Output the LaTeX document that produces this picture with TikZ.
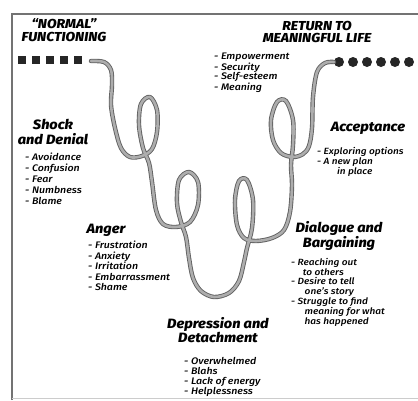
\documentclass[tikz,border=0pt]{standalone}
\usepackage{fontspec}
\setmainfont{Fira Sans}[FakeStretch=1.12]
\newfontfamily\headfont{Fira Sans ExtraBold Italic}[FakeStretch=1.08]
\newfontfamily\itemfont{Fira Sans Medium Italic}[FakeStretch=1.12]
\tikzset{
  endtitle/.style={font=\headfont\fontsize{13}{12.5}\selectfont, align=center, inner sep=0pt},
  stagetitle/.style={font=\headfont\fontsize{13.5}{14.5}\selectfont, align=center, inner sep=0pt},
  itemlist/.style={font=\itemfont\fontsize{9.5}{10.5}\selectfont, align=left, anchor=north west, inner sep=0pt},
  ribbon/.style={draw=black!62, line width=0.9pt, double=black!32, double distance=2.6pt, line join=round, line cap=round}
}
\begin{document}
\begin{tikzpicture}[x=1pt,y=-1pt]
\useasboundingbox (0,0) rectangle (418,400);
\draw[black!55, line width=1.3pt] (12,400) -- (12,14) -- (418,14);
\draw[black!20, line width=0.8pt] (12,398) -- (418,398);
\node[endtitle] (normal) at (64,30) {“NORMAL”\\FUNCTIONING};
\node[endtitle] (return) at (317,32) {RETURN TO\\MEANINGFUL LIFE};
\node[itemlist, font=\itemfont\fontsize{9.5}{9.5}\selectfont] (returnitems) at (214,53) {- Empowerment\\- Security\\- Self-esteem\\- Meaning};
\fill[black!85] (18,56) rectangle (26,64);
\fill[black!85] (32,56) rectangle (40,64);
\fill[black!85] (46,56) rectangle (54,64);
\fill[black!85] (60,56) rectangle (68,64);
\fill[black!85] (74,56) rectangle (82,64);
\fill[black!85] (339,62) circle (5);
\fill[black!85] (353,62) circle (5);
\fill[black!85] (367,62) circle (5);
\fill[black!85] (381,62) circle (5);
\fill[black!85] (395,62) circle (5);
\fill[black!85] (409,62) circle (5);
\draw[ribbon] plot[smooth, tension=0.55] coordinates {(91,61) (104,62) (111,70) (112,85) (111,105) (115,128) (121,148) (130,157) (142,156) (152,149) (157,132) (157,110) (150,97) (141,104) (139,125) (143,148) (149,163) (152,182) (156,210) (163,224) (176,227) (190,222) (198,205) (198,182) (189,172) (179,180) (177,203) (181,222) (186,237) (189,258) (193,278) (201,291) (214,297) (229,293) (239,281) (244,262) (247,248) (252,228) (253,200) (247,180) (239,181) (235,200) (237,225) (244,238) (256,241) (272,238) (284,230) (290,212) (292,185) (291,165) (293,145) (293,120) (286,101) (277,102) (271,120) (273,140) (281,153) (293,157) (303,154) (309,146) (312,128) (313,97) (317,72) (325,63) (334,62)};
\node[stagetitle] (shock) at (53,132) {Shock\\and Denial};
\node[itemlist, font=\itemfont\fontsize{9.5}{11}\selectfont] (shockitems) at (25,153) {- Avoidance\\- Confusion\\- Fear\\- Numbness\\- Blame};
\node[stagetitle] (anger) at (106,230) {Anger};
\node[itemlist] (angeritems) at (88,241) {- Frustration\\- Anxiety\\- Irritation\\- Embarrassment\\- Shame};
\node[stagetitle] (acceptance) at (368,128) {Acceptance};
\node[itemlist, font=\itemfont\fontsize{9}{10}\selectfont] (acceptitems) at (317,147) {- Exploring options\\- A new plan\\\hspace*{2.2em}in place};
\node[stagetitle] (dialogue) at (339,236) {Dialogue and\\Bargaining};
\node[itemlist, font=\itemfont\fontsize{9}{9.8}\selectfont] (dialogueitems) at (291,258) {- Reaching out\\\hspace*{1.3em}to others\\- Desire to tell\\\hspace*{1.5em}one’s story\\- Struggle to find\\\hspace*{1.5em}meaning for what\\\hspace*{1.5em}has happened};
\node[stagetitle] (depression) at (218,330) {Depression and\\Detachment};
\node[itemlist, font=\itemfont\fontsize{9.5}{10}\selectfont] (depressionitems) at (184,357) {- Overwhelmed\\- Blahs\\- Lack of energy\\- Helplessness};
\end{tikzpicture}
\end{document}
